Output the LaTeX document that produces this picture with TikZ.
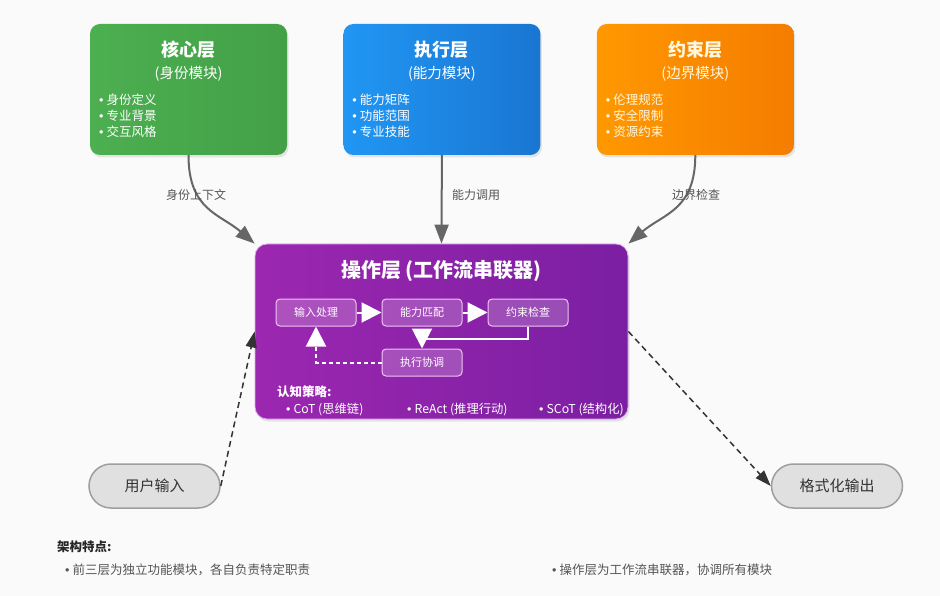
\documentclass[tikz,border=0pt]{standalone}
\usepackage{fontspec}
\setmainfont{Noto Sans CJK SC}
\newfontfamily\bulfont{Liberation Sans}
\usepackage{tikz}
\usetikzlibrary{positioning}
\usetikzlibrary{arrows.meta, shadows}
\usetikzlibrary{calc, shapes, backgrounds}

\definecolor{bgc}{HTML}{FAFAFA}
\definecolor{arrowgray}{HTML}{666666}
\definecolor{labelgray}{HTML}{555555}
\definecolor{dashgray}{HTML}{333333}
\definecolor{stepline}{HTML}{F0C4F5}
\definecolor{pillfill}{HTML}{E0E0E0}
\definecolor{pillline}{HTML}{9E9E9E}
\newcommand{\fsz}[2]{\fontsize{#1}{#2}\selectfont}
\newcommand{\bul}{{\bulfont •}\hspace{0.25em}}

\tikzstyle{arrow} = [line width=2pt, draw=arrowgray, -{Triangle[length=19pt,width=14pt,fill=arrowgray]}]
\tikzstyle{dasharrow} = [line width=1.5pt, draw=dashgray, dash pattern=on 6pt off 4pt, -{Triangle[length=16pt,width=11pt,fill=dashgray]}]
\tikzstyle{innerarrow} = [line width=2pt, draw=white, -{Triangle[length=20pt,width=20pt,fill=white]}]

\begin{document}
\begin{tikzpicture}[
    x = 1pt, y = 1pt,
    layer/.style = {rectangle, rounded corners = 10pt, minimum width = 197pt, minimum height = 131pt, inner sep = 0pt,
                    drop shadow = {shadow xshift = 1.5pt, shadow yshift = -2.5pt, opacity = 0.18}},
    ttl/.style = {text = white, font = \bfseries\fsz{18pt}{22pt}},
    subttl/.style = {text = white, font = \fsz{14.5pt}{17pt}},
    items/.style = {text = white, font = \fsz{12.5pt}{16pt}, align = left, anchor = north west, inner sep = 0pt},
    stepbox/.style = {rectangle, rounded corners = 4pt, minimum width = 80pt, minimum height = 27pt, inner sep = 0pt,
                      fill = white, fill opacity = 0.2, text opacity = 1, draw = stepline, line width = 1pt,
                      text = white, font = \fsz{11pt}{13pt}},
    strat/.style = {anchor = west, inner sep = 0pt, text = white, font = \fsz{12.3pt}{14pt}},
    pill/.style = {rectangle, rounded corners = 22pt, minimum width = 131pt, minimum height = 44pt, inner sep = 0pt,
                   fill = pillfill, draw = pillline, line width = 1.5pt, font = \fsz{15pt}{18pt}, text = black!80},
    lbl/.style = {text = labelgray, font = \fsz{12pt}{14pt}},
    note/.style = {anchor = west, inner sep = 0pt, text = labelgray, font = \fsz{12.5pt}{15pt}}
  ]
  % background
  \fill[bgc] (0,0) rectangle (940,-596);

  % three layers
  \node[layer, left color = {rgb,255:red,76;green,175;blue,80}, right color = {rgb,255:red,67;green,160;blue,71}] (core) at (188.5,-89.5) {};
  \node[layer, left color = {rgb,255:red,33;green,150;blue,243}, right color = {rgb,255:red,25;green,118;blue,210}, right = 56pt of core] (exec) {};
  \node[layer, left color = {rgb,255:red,255;green,152;blue,0}, right color = {rgb,255:red,245;green,124;blue,0}, right = 56pt of exec] (cons) {};

  \node[ttl] (coreT) at ([yshift=-26pt]core.north) {核心层};
  \node[subttl] (coreS) at ([yshift=-50pt]core.north) {(身份模块)};
  \node[items] (coreL) at ([xshift=9pt, yshift=-70pt]core.north west) {\bul 身份定义\\\bul 专业背景\\\bul 交互风格};

  \node[ttl] (execT) at ([yshift=-26pt]exec.north) {执行层};
  \node[subttl] (execS) at ([yshift=-50pt]exec.north) {(能力模块)};
  \node[items] (execL) at ([xshift=9pt, yshift=-70pt]exec.north west) {\bul 能力矩阵\\\bul 功能范围\\\bul 专业技能};

  \node[ttl, text = {rgb,255:red,255;green,248;blue,225}] (consT) at ([yshift=-26pt]cons.north) {约束层};
  \node[subttl, text = {rgb,255:red,255;green,248;blue,225}] (consS) at ([yshift=-50pt]cons.north) {(边界模块)};
  \node[items, text = {rgb,255:red,255;green,248;blue,225}] (consL) at ([xshift=9pt, yshift=-70pt]cons.north west) {\bul 伦理规范\\\bul 安全限制\\\bul 资源约束};

  % operation layer
  \node[rectangle, rounded corners = 12pt, minimum width = 373pt, minimum height = 175pt, inner sep = 0pt,
        left color = {rgb,255:red,156;green,39;blue,176}, right color = {rgb,255:red,123;green,31;blue,162},
        draw = {rgb,255:red,225;green,170;blue,235}, line width = 0.8pt,
        drop shadow = {shadow xshift = 1.5pt, shadow yshift = -2.5pt, opacity = 0.18}] (op) at (441.5,-331.5) {};
  \node[text = white, font = \bfseries\fsz{20pt}{24pt}] (opT) at ([yshift=-27pt]op.north) {操作层 (工作流串联器)};

  \node[stepbox] (inp) at (316,-312.5) {输入处理};
  \node[stepbox, right = 25pt of inp] (match) {能力匹配};
  \node[stepbox, right = 25pt of match] (chk) {约束检查};
  \node[stepbox, below = 22pt of match] (coord) {执行协调};

  \draw[innerarrow] (inp) -- (match);
  \draw[innerarrow] (match) -- (chk);
  \draw[innerarrow] (chk.south) -- ++(0,-12) -| (coord.north);
  \draw[innerarrow, dash pattern = on 4pt off 3pt] (coord.west) -| (inp.south);

  \node[anchor = west, inner sep = 0pt, text = white, font = \bfseries\fsz{12.5pt}{14pt}] (cog) at (277,-392) {认知策略:};
  \node[strat] (cot) at (286,-410) {\bul CoT (思维链)};
  \node[strat] (react) at (407,-410) {\bul ReAct (推理行动)};
  \node[strat] (scot) at (539,-410) {\bul SCoT (结构化)};

  % input / output
  \node[pill] (user) at (154.5,-486) {用户输入};
  \node[pill] (fmt) at (837,-486) {格式化输出};

  % connectors
  \draw[arrow] (core.south) .. controls +(0,-55) and +(-35,30) .. (op.north west);
  \draw[arrow] (exec.south) -- (op.north);
  \draw[arrow] (cons.south) .. controls +(0,-55) and +(35,30) .. (op.north east);
  \node[lbl] (l1) at (196,-195) {身份上下文};
  \node[lbl] (l2) at (476,-195) {能力调用};
  \node[lbl] (l3) at (696,-195) {边界检查};

  \draw[dasharrow] (user.east) -- (op.west);
  \draw[dasharrow] (op.east) -- (fmt.west);

  % notes
  \node[anchor = west, inner sep = 0pt, text = black!85, font = \bfseries\fsz{12.5pt}{15pt}] (feat) at (57,-547) {架构特点:};
  \node[note] (f1) at (65,-570) {\bul 前三层为独立功能模块，各自负责特定职责};
  \node[note] (f2) at (552,-570) {\bul 操作层为工作流串联器，协调所有模块};
\end{tikzpicture}
\end{document}
